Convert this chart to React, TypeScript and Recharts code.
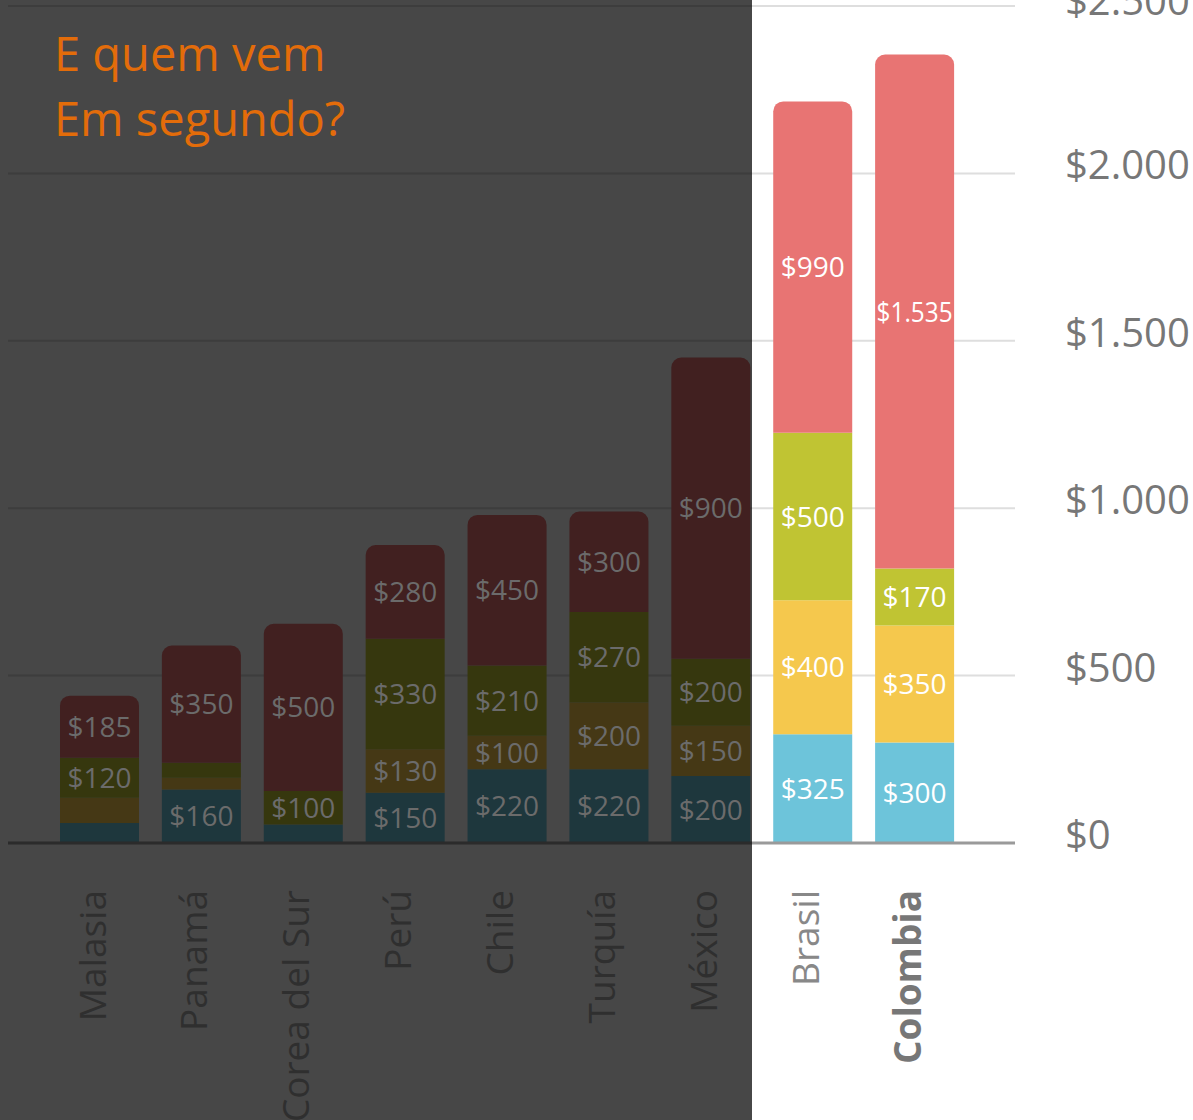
import { BarChart, Bar, XAxis, YAxis, CartesianGrid, LabelList, ReferenceLine, Cell } from 'recharts';

const countries = ['Malasia', 'Panamá', 'Corea del Sur', 'Perú', 'Chile', 'Turquía', 'México', 'Brasil', 'Colombia'];
const blueValues = [60, 160, 55, 150, 220, 220, 200, 325, 300];
const yellowValues = [75, 35, 0, 130, 100, 200, 150, 400, 350];
const greenValues = [120, 45, 100, 330, 210, 270, 200, 500, 170];
const redValues = [185, 350, 500, 280, 450, 300, 900, 990, 1535];
const yTicks = [0, 500, 1000, 1500, 2000, 2500];
const titleLines = ['E quem vem', 'Em segundo?'];
// first N countries sit under the dark shade
const dimmedCount = 7;

const FONT = '"Open Sans", "DejaVu Sans", sans-serif';
const SHADE_RIGHT = 752;

const series = [
  { key: 'blue', color: '#6dc4da', dark: '#1e373d' },
  { key: 'yellow', color: '#f5c84d', dark: '#453815' },
  { key: 'green', color: '#c0c433', dark: '#36370e' },
  { key: 'red', color: '#e87473', dark: '#412020' },
];

const rows = countries.map((country, i) => ({
  country,
  blue: blueValues[i],
  yellow: yellowValues[i],
  green: greenValues[i],
  red: redValues[i],
}));

const money = (v: number) => '$' + String(v).replace(/\B(?=(\d{3})+(?!\d))/g, '.');

const SegmentLabel = (props: any) => {
  const box = props.viewBox ?? props;
  const raw = props.value;
  const value = Array.isArray(raw) ? raw[1] - raw[0] : Number(raw);
  if (!value || value < 100) return null;
  const txt = money(value);
  const cx = box.x + box.width / 2;
  const dim = cx < SHADE_RIGHT;
  const squeeze = txt.length > 4 ? { textLength: 76, lengthAdjust: 'spacingAndGlyphs' as const } : {};
  return (
    <text
      x={cx}
      y={box.y + box.height / 2}
      dy="0.36em"
      textAnchor="middle"
      fontSize={28}
      fontFamily={FONT}
      fill={dim ? '#6b6b6b' : '#ffffff'}
      {...squeeze}
    >
      {txt}
    </text>
  );
};

const splitLine = (x1: number, x2: number, y: number, dark: string, light: string, w: number) => {
  const left = Math.min(x1, x2);
  const right = Math.max(x1, x2);
  return (
    <g key={`line-${y}`}>
      <line x1={left} x2={SHADE_RIGHT} y1={y} y2={y} stroke={dark} strokeWidth={w} />
      <line x1={SHADE_RIGHT} x2={right} y1={y} y2={y} stroke={light} strokeWidth={w} />
    </g>
  );
};

const gridLine = (p: any) => splitLine(p.x1, p.x2, p.y1, '#3d3d3d', '#dedede', 2);
const baseLine = (p: any) => splitLine(p.x1, p.x2, p.y1, '#2b2b2b', '#9a9a9a', 3);

const CountryTick = (props: any) => {
  const { x, y, payload } = props;
  const i = countries.indexOf(payload.value);
  const dim = i < dimmedCount;
  const bold = payload.value === 'Colombia';
  return (
    <g transform={`translate(${x},${y + 47})`}>
      <text
        transform="rotate(-90)"
        textAnchor="end"
        dy="0.15em"
        fontSize={37}
        fontFamily={FONT}
        fontWeight={bold ? 700 : 400}
        fill={dim ? '#2f2f2f' : bold ? '#777777' : '#888888'}
      >
        {payload.value}
      </text>
    </g>
  );
};

const MoneyTick = (props: any) => {
  const { x, y, payload } = props;
  return (
    <text x={x + 50} y={y + 6} textAnchor="start" fontSize={40} fontFamily={FONT} fill="#777777">
      {money(payload.value)}
    </text>
  );
};

export default function App() {
  return (
    <div style={{ position: 'absolute', left: 0, top: 0, width: 1193, height: 1120, background: '#ffffff', overflow: 'hidden' }}>
      <div style={{ position: 'absolute', left: 0, top: 0, width: SHADE_RIGHT, height: 1120, background: '#474747' }} />
      <div style={{ position: 'absolute', left: 0, top: 0 }}>
        <BarChart width={1193} height={1120} data={rows} margin={{ top: 6, right: 0, bottom: 0, left: 8 }} barSize={79}>
          <CartesianGrid vertical={false} horizontal={gridLine} />
          <XAxis
            dataKey="country"
            interval={0}
            height={277}
            padding={{ left: 41, right: 49 }}
            axisLine={false}
            tickLine={false}
            tickSize={0}
            tickMargin={0}
            tick={CountryTick}
          />
          <YAxis
            orientation="right"
            width={178}
            domain={[0, 2500]}
            ticks={yTicks}
            axisLine={false}
            tickLine={false}
            tickSize={0}
            tickMargin={0}
            tick={MoneyTick}
          />
          <ReferenceLine y={0} shape={baseLine} />
          {series.map((s) => (
            <Bar
              key={s.key}
              dataKey={s.key}
              stackId="a"
              isAnimationActive={false}
              radius={s.key === 'red' ? [10, 10, 0, 0] : 0}
            >
              {rows.map((_, i) => (
                <Cell key={`${s.key}-${i}`} fill={i < dimmedCount ? s.dark : s.color} />
              ))}
              <LabelList dataKey={s.key} content={SegmentLabel} />
            </Bar>
          ))}
        </BarChart>
      </div>
      <div
        style={{
          position: 'absolute',
          left: 54,
          top: 21,
          fontFamily: FONT,
          fontSize: 47,
          lineHeight: '65px',
          color: '#e36c0a',
          whiteSpace: 'nowrap',
        }}
      >
        {titleLines.map((line) => (
          <div key={line}>{line}</div>
        ))}
      </div>
    </div>
  );
}
